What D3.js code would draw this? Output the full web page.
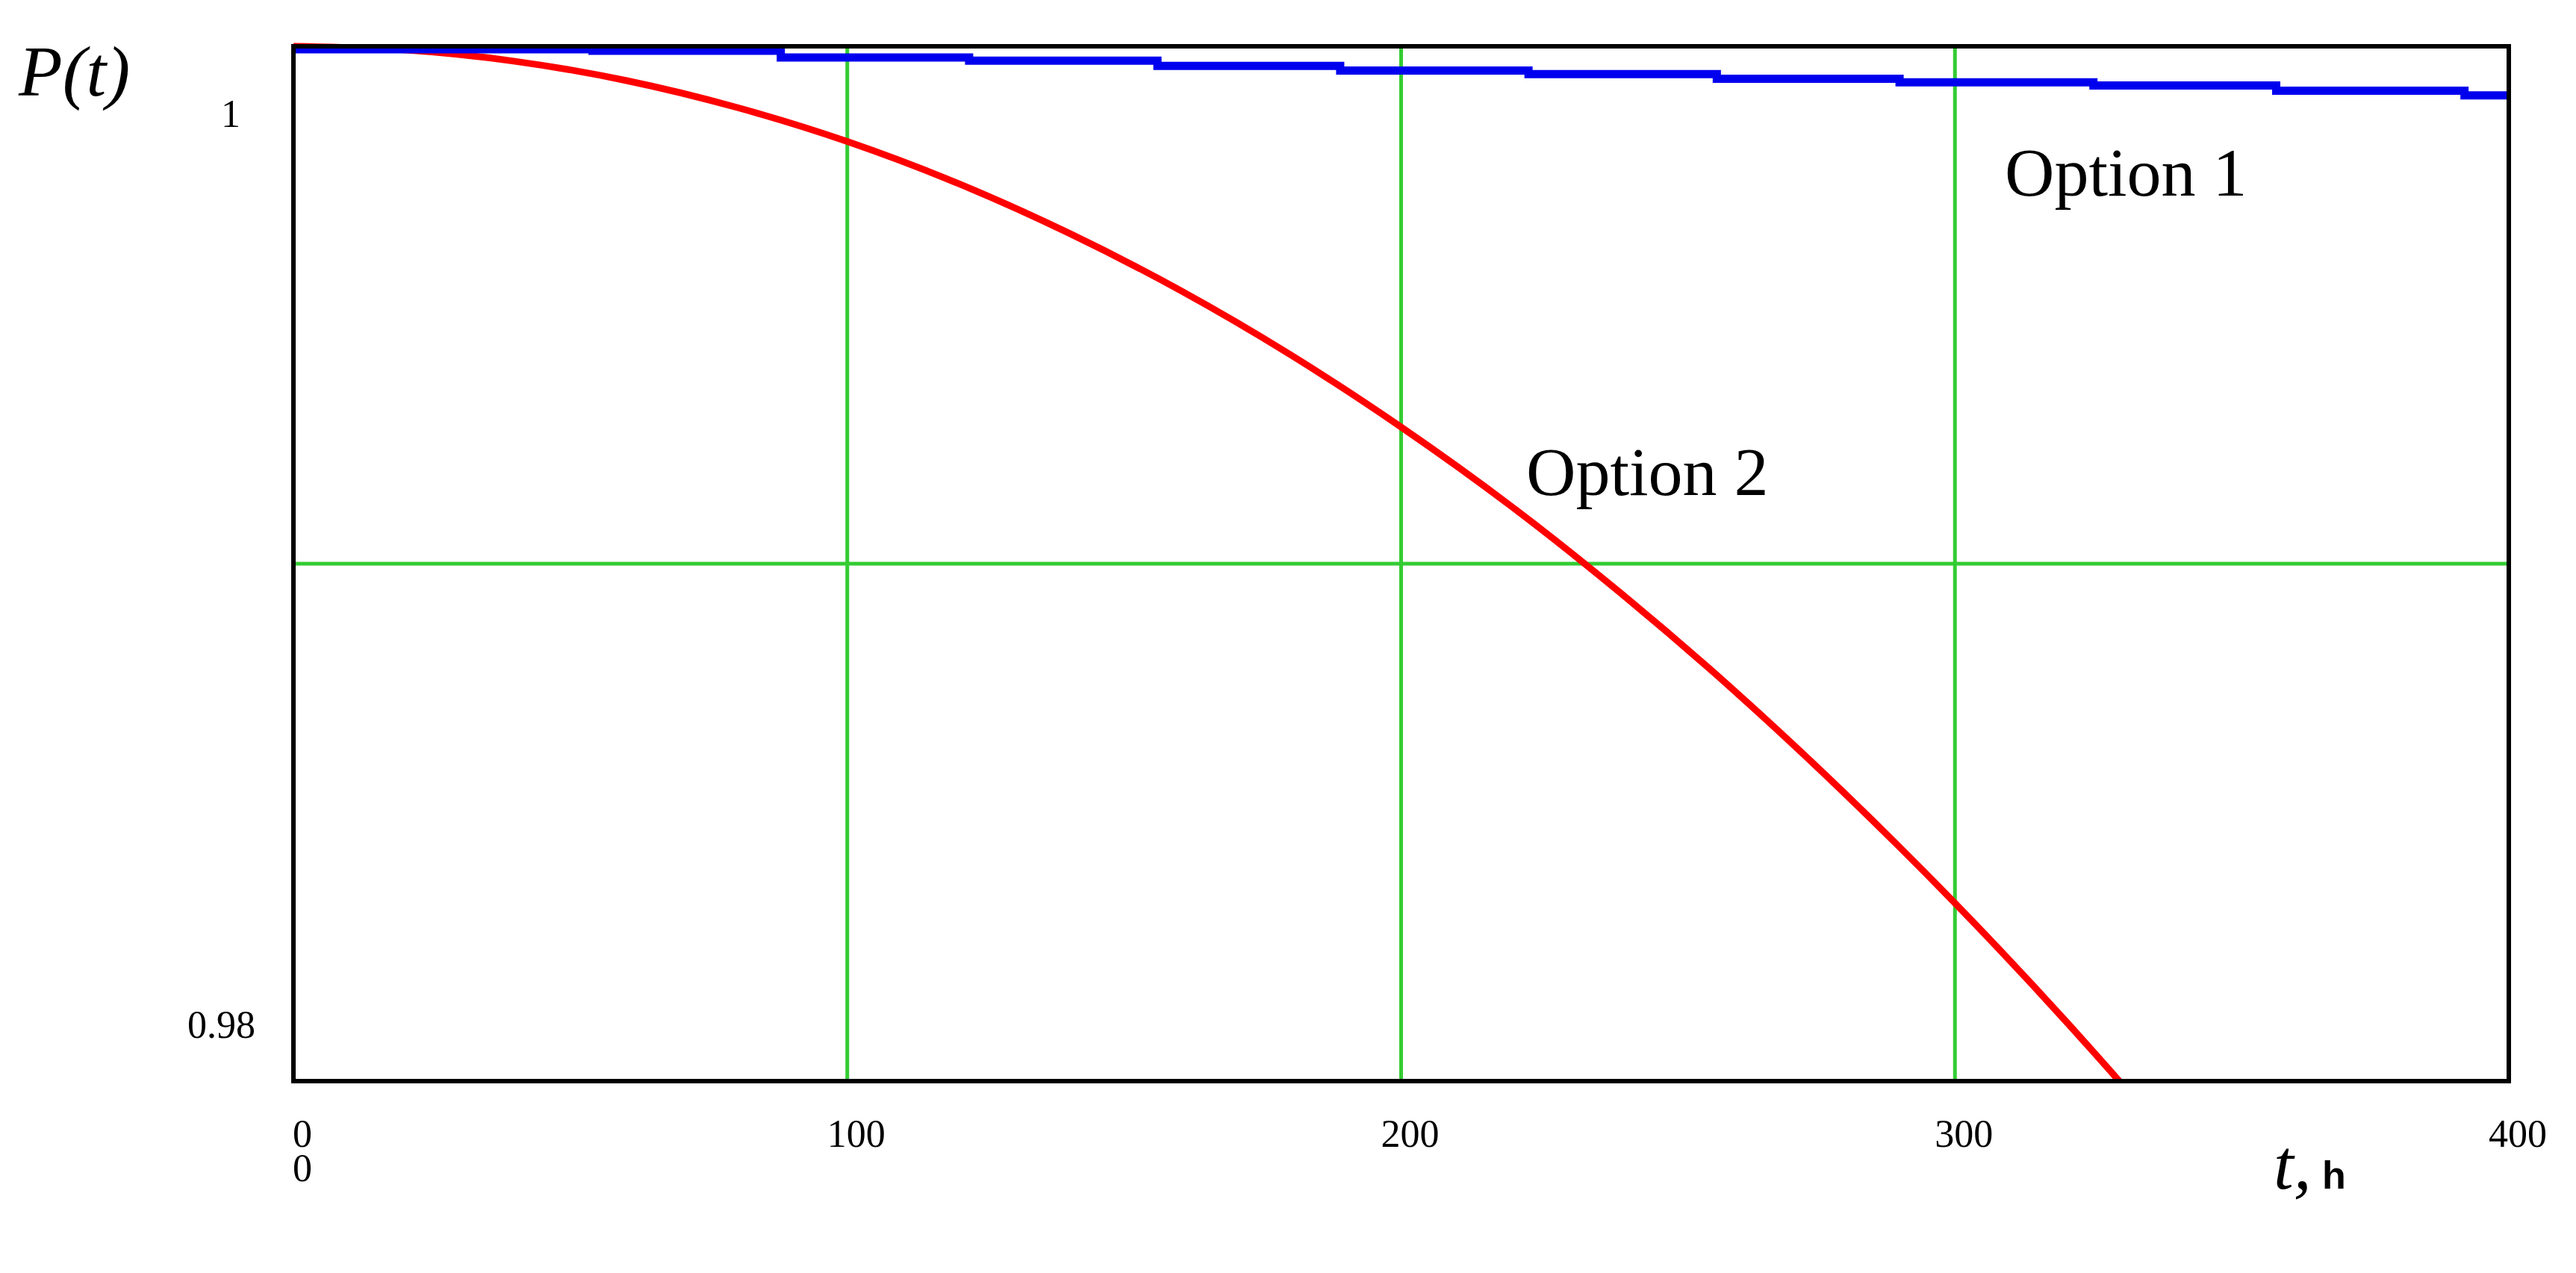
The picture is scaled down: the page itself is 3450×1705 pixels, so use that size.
<!DOCTYPE html>
<html><head><meta charset="utf-8">
<script src="https://cdn.jsdelivr.net/npm/d3@7"></script>
<style>body{margin:0;background:#fff}</style></head>
<body><svg id="c" width="3450" height="1705"></svg>
<script>
const xTicks=[0,100,200,300,400];
const yTicks=[0.98,0.99,1];
const opt1T=[0,54,88,122,156,189,223,257,290,325,358,392,400];
const opt1P=[1.0,0.99997,0.99984,0.99978,0.99968,0.99959,0.99952,0.99943,0.99936,0.99930,0.99920,0.99911,0.99911];
const opt2T=[0,20,40,60,80,100,120,140,160,180,200,220,240,260,280,300,320,330];
const opt2P=[1.0,0.99993,0.99971,0.99934,0.99882,0.99816,0.99735,0.99639,0.99529,0.99404,0.99264,0.99110,0.98940,0.98756,0.98557,0.98344,0.98116,0.97996];

const svg=d3.select("#c");
const L=393,R=3360,T=62,B=1448;
const x=d3.scaleLinear().domain([0,400]).range([L,R]);
const y=d3.scaleLinear().domain([0.98,1]).range([B,T]);
svg.append("defs").append("clipPath").attr("id","cp").append("rect").attr("x",L).attr("y",T-8).attr("width",R-L).attr("height",B-T+8);
const green="#33cc33";
svg.append("g").selectAll("line").data(xTicks.slice(1,-1)).join("line")
 .attr("x1",d=>x(d)).attr("x2",d=>x(d)).attr("y1",T).attr("y2",B).attr("stroke",green).attr("stroke-width",5);
svg.append("line").attr("x1",L).attr("x2",R).attr("y1",y(0.99)).attr("y2",y(0.99)).attr("stroke",green).attr("stroke-width",5);
const g=svg.append("g").attr("clip-path","url(#cp)");
g.append("path").datum(opt2T.map((t,i)=>[t,opt2P[i]])).attr("fill","none").attr("stroke","#ff0000").attr("stroke-width",9)
 .attr("d",d3.line().curve(d3.curveMonotoneX).x(d=>x(d[0])).y(d=>y(d[1])));
g.append("path").datum(opt1T.map((t,i)=>[t,opt1P[i]])).attr("fill","none").attr("stroke","#0000ee").attr("stroke-width",11)
 .attr("d",d3.line().curve(d3.curveStepAfter).x(d=>x(d[0])).y(d=>y(d[1])+4));
svg.append("rect").attr("x",L).attr("y",T).attr("width",R-L).attr("height",B-T).attr("fill","none").attr("stroke","#000").attr("stroke-width",6);
const f="Liberation Serif";
svg.append("g").selectAll("text").data(xTicks).join("text")
 .attr("x",d=>x(d)+12).attr("y",1536).attr("text-anchor","middle").attr("font-family",f).attr("font-size",52).text(d=>d);
svg.append("text").attr("x",322).attr("y",170).attr("text-anchor","end").attr("font-family",f).attr("font-size",52).text("1");
svg.append("text").attr("x",342).attr("y",1390).attr("text-anchor","end").attr("font-family",f).attr("font-size",52).text("0.98");
svg.append("text").attr("x",405).attr("y",1582).attr("text-anchor","middle").attr("font-family",f).attr("font-size",52).text("0");
svg.append("text").attr("x",25).attr("y",128).attr("font-family",f).attr("font-style","italic").attr("font-size",96).text("P(t)");
const tx=svg.append("text").attr("x",3045).attr("y",1592).attr("font-family",f);
tx.append("tspan").attr("font-style","italic").attr("font-size",96).text("t,");
tx.append("tspan").attr("font-family","Liberation Sans").attr("font-weight","bold").attr("font-size",52).text(" h");
svg.append("text").attr("x",2685).attr("y",262).attr("font-family",f).attr("font-size",92).text("Option 1");
svg.append("text").attr("x",2044).attr("y",663).attr("font-family",f).attr("font-size",92).text("Option 2");
</script></body></html>
